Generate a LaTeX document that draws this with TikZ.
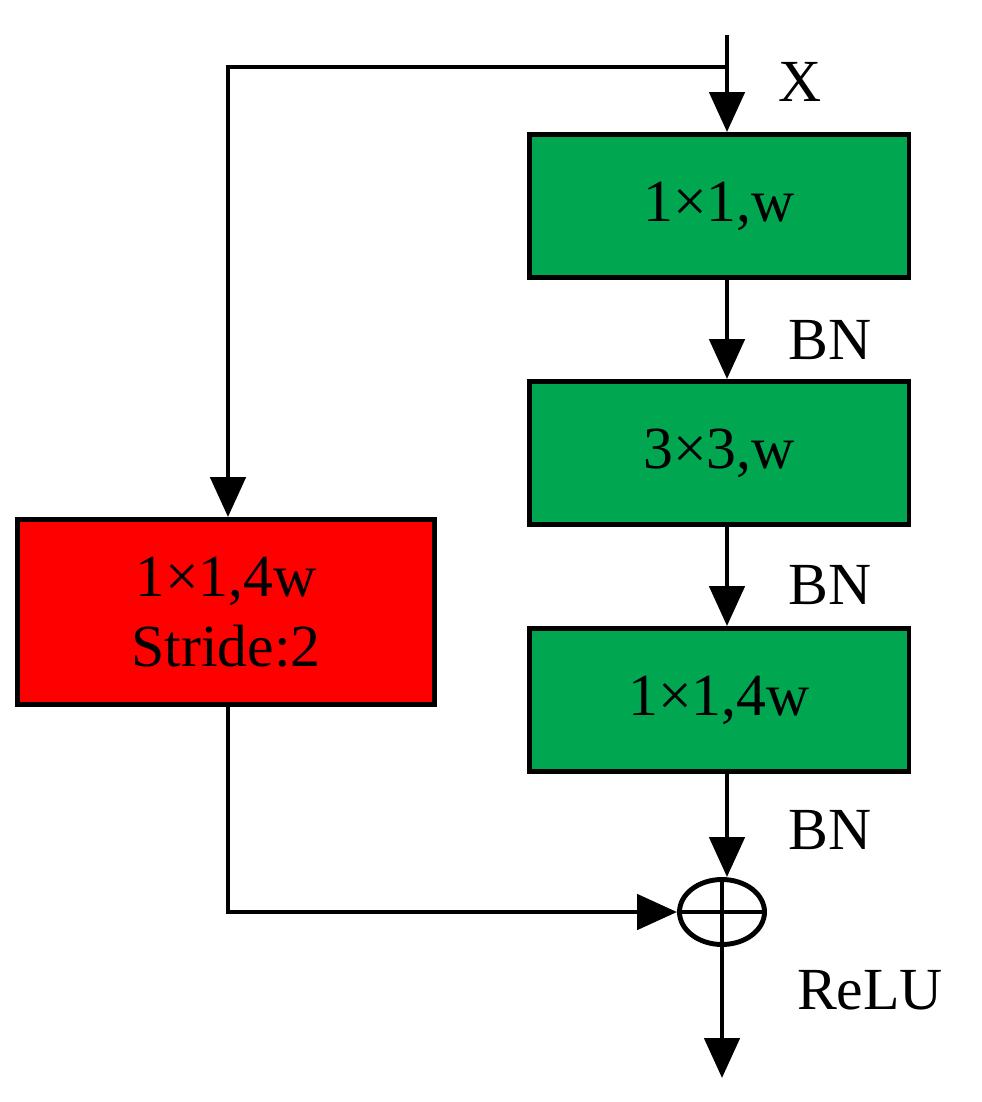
\documentclass[tikz,border=0pt]{standalone}
\usepackage{fontspec}
\setmainfont{Liberation Serif}
\usetikzlibrary{arrows.meta,shapes.geometric}
\definecolor{gbox}{RGB}{0,166,80}
\begin{document}
\begin{tikzpicture}[x=0.02cm,y=-0.02cm,
  line width=2.8pt,
  box/.style={draw=black,line width=2.8pt,minimum width=7.6cm,minimum height=2.86cm,font=\fontsize{34}{40}\selectfont,inner sep=0pt},
  lbl/.style={font=\fontsize{34}{40}\selectfont,inner sep=0pt},
  arr/.style={-{Triangle[width=0.7cm,length=0.8cm]}}]
\useasboundingbox (0,0) rectangle (981,1102);
\node[box,fill=gbox] (b1) at (719,206) {1×1,w};
\node[box,fill=gbox] (b2) at (719,453) {3×3,w};
\node[box,fill=gbox] (b3) at (719,700) {1×1,4w};
\node[box,fill=red,minimum width=8.34cm,minimum height=3.7cm,align=center] (r) at (226,612) {1×1,4w\\Stride:2};
\node[ellipse,draw,minimum width=1.7cm,minimum height=1.3cm,inner sep=0pt] (c) at (722,912) {};
\draw (c.north) -- (c.south) (c.west) -- (c.east);
\coordinate (top) at (727,35);
\coordinate (br) at (727,67);
\coordinate (lt) at (228,67);
\coordinate (lb) at (228,912);
\coordinate (out) at (722,1078);
\draw[arr] (top) -- (b1.north -| top);
\draw[arr] (br) -- (lt) -- (r.north -| lt);
\draw[arr] (b1.south -| top) -- (b2.north -| top);
\draw[arr] (b2.south -| top) -- (b3.north -| top);
\draw[arr] (b3.south -| top) -- (c.north -| top);
\draw[arr] (r.south -| lt) -- (lb) -- (c.west);
\draw[arr] (c.south) -- (out);
\node[lbl] (x) at (800,82) {X};
\node[lbl] (bn1) at (830,340) {BN};
\node[lbl] (bn2) at (830,585) {BN};
\node[lbl] (bn3) at (830,830) {BN};
\node[lbl] (relu) at (870,990) {ReLU};
\end{tikzpicture}
\end{document}
